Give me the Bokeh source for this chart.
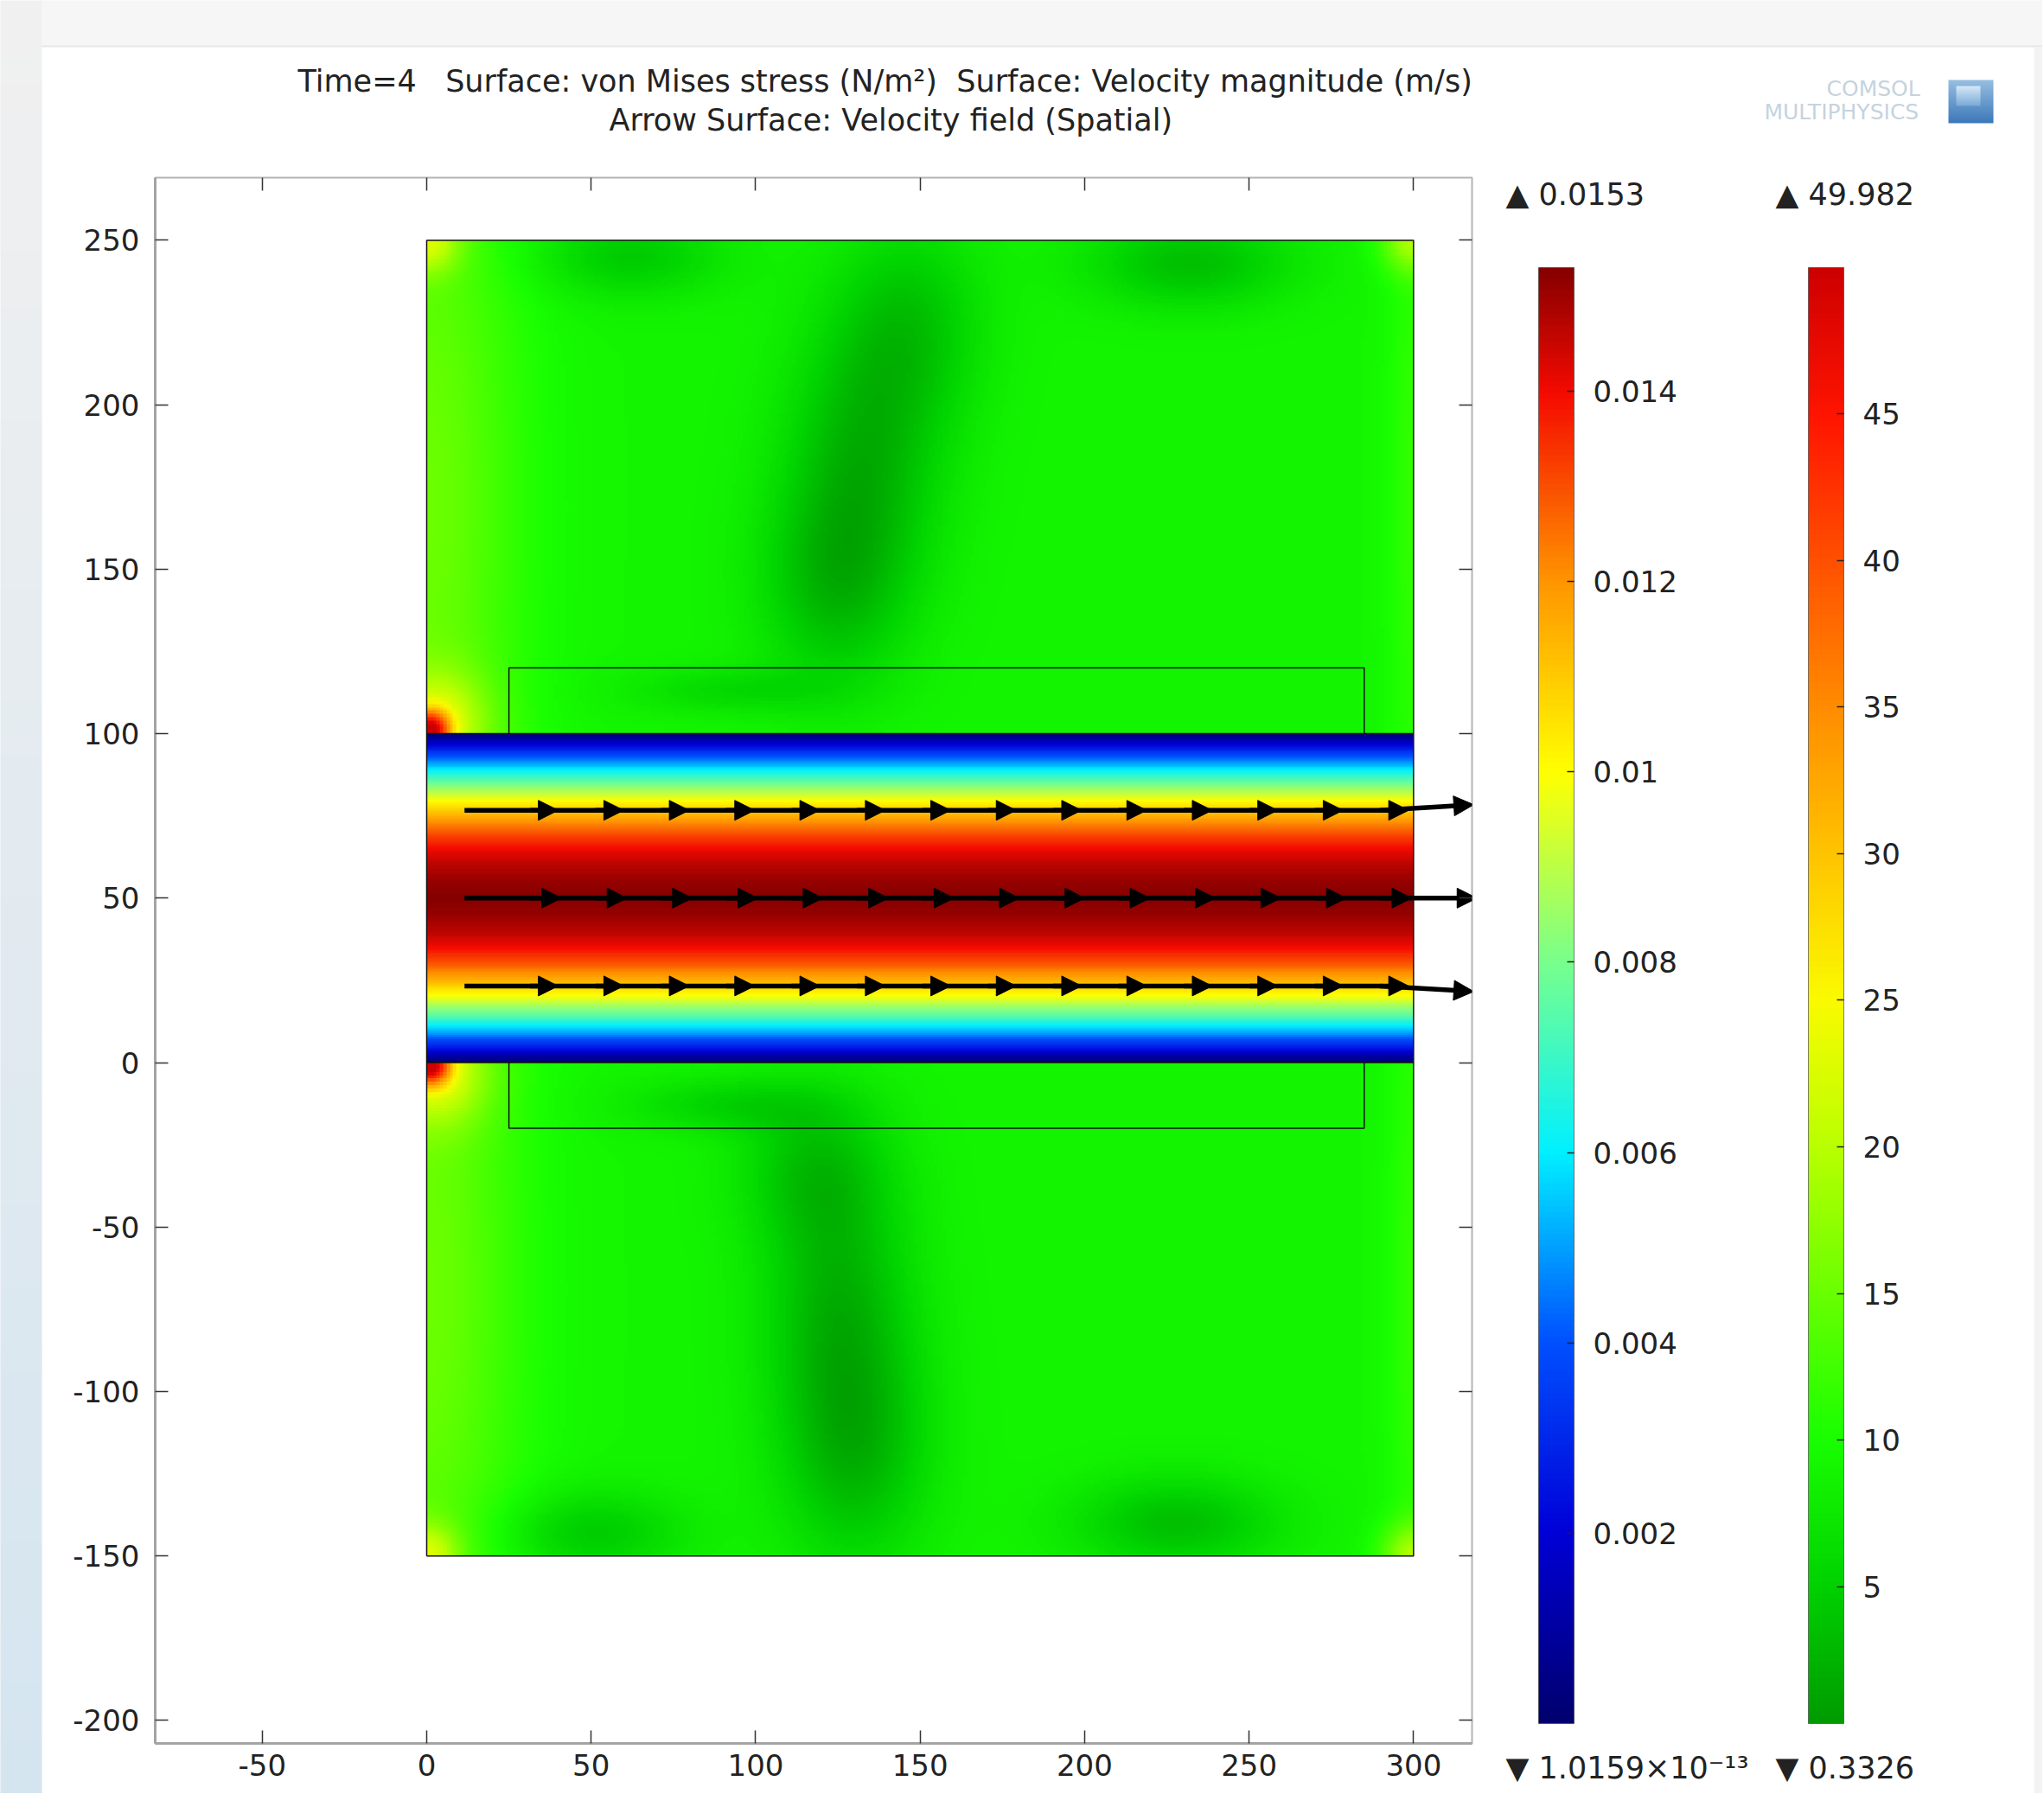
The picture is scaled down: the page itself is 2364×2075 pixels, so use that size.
import numpy as np
from bokeh.plotting import figure
from bokeh.models import (Range1d, LinearAxis, FixedTicker, LinearColorMapper, ColorBar,
                          PrintfTickFormatter)
from bokeh.embed import file_html
from bokeh.resources import INLINE

# ---------------- values ----------------
title_line1 = "Time=4\u00a0\u00a0\u00a0Surface: von Mises stress (N/m\u00b2)\u00a0\u00a0Surface: Velocity magnitude (m/s)"
title_line2 = "Arrow Surface: Velocity field (Spatial)"

x_ticks = [-50, 0, 50, 100, 150, 200, 250, 300]
y_ticks = [-200, -150, -100, -50, 0, 50, 100, 150, 200, 250]

# geometry (domain boundaries)
solid_x = [0, 300]
solid_y = [-150, 250]
channel_y = [0, 100]
inner_x = [25, 285]
inner_y = [-20, 120]

# colour ranges
vel_min, vel_max = 1.0159e-13, 0.0153
vel_ticks = [0.002, 0.004, 0.006, 0.008, 0.01, 0.012, 0.014]
stress_min, stress_max = 0.3326, 49.982
stress_ticks = [5, 10, 15, 20, 25, 30, 35, 40, 45]
vel_max_label = "\u25b2 0.0153"
vel_min_label = "\u25bc 1.0159\u00d710\u207b\u00b9\u00b3"
stress_max_label = "\u25b2 49.982"
stress_min_label = "\u25bc 0.3326"

vel_profile_y = [0, 5, 10, 15, 20, 25, 30, 35, 40, 45, 50, 55, 60, 65, 70, 75, 80, 85, 90, 95, 100]
vel_profile = [0.0000, 0.0029, 0.0055, 0.0078, 0.0098, 0.0115, 0.0129, 0.0140, 0.0147, 0.0151, 0.0153,
               0.0151, 0.0147, 0.0140, 0.0129, 0.0115, 0.0098, 0.0078, 0.0055, 0.0029, 0.0000]

# von Mises stress in the solid: background level plus local features
stress_base = 9.0
feat_x   = [62, 232, 147, 133, 124, 92, 0, 0, 300, 300, 1, 3,
            50, 228, 130, 125, 118, 92, 0, 0, 300, 300, 1, 3]
feat_y   = [245, 243, 225, 185, 145, 113, 175, 250, 250, 175, 101, 103,
            -143, -140, -118, -72, -32, -13, -75, -150, -150, -75, -1, -3]
feat_sx  = [20, 22, 16, 17, 16, 22, 20, 7, 7, 6, 4, 11,
            20, 22, 16, 16, 16, 22, 20, 7, 7, 6, 4, 11]
feat_sy  = [9, 10, 22, 28, 22, 5, 90, 7, 7, 80, 4, 11,
            9, 10, 25, 28, 16, 6, 90, 7, 7, 80, 4, 11]
feat_amp = [-4.5, -5.5, -4.5, -6.0, -5.5, -3.0, 6.0, 10, 9, 2.5, 30, 10,
            -4.5, -5.5, -6.0, -6.0, -4.5, -3.5, 6.0, 10, 9, 2.5, 30, 10]

# velocity arrows (Arrow Surface): start points and lengths
arrow_x0 = [11.5, 31.4, 51.3, 71.2, 91.0, 110.9, 130.8, 150.7, 170.6, 190.4, 210.3, 230.2, 250.1, 270.0, 289.8]
arrow_row_y = [76.7, 50.0, 23.3]
arrow_len = [28.5, 29.5, 28.5]
arrow_last_dy = [1.7, 0.0, -1.7]

# ---------------- layout helpers ----------------
FL, FT, FW, FH = 179, 205, 1523, 1811
FB = FT + FH
SC = 3.8045
X_START = (FL - 493.0) / SC
X_END = X_START + FW / SC
Y_END = 250 + (277.4 - FT) / SC
Y_START = Y_END - FH / SC
FONT = "DejaVu Sans"


def build_palette(stops, n=256):
    v = np.array([s[0] for s in stops], float)
    c = np.array([s[1] for s in stops], float)
    t = np.linspace(0, 1, n)
    r = np.interp(t, v, c[:, 0]); g = np.interp(t, v, c[:, 1]); b = np.interp(t, v, c[:, 2])
    return ["#%02x%02x%02x" % (int(round(a)), int(round(bb)), int(round(cc))) for a, bb, cc in zip(r, g, b)]


rainbow = build_palette([
    (0.0, (0, 0, 110)), (0.1307, (0, 0, 215)), (0.2614, (0, 80, 255)), (0.392, (0, 240, 255)),
    (0.523, (120, 255, 140)), (0.654, (255, 255, 0)), (0.784, (255, 150, 0)), (0.915, (245, 10, 0)),
    (1.0, (135, 0, 0))])
traffic = build_palette([
    (0.0, (0, 155, 0)), (0.094, (0, 210, 0)), (0.195, (25, 255, 0)), (0.295, (105, 255, 0)),
    (0.396, (185, 255, 0)), (0.497, (250, 250, 0)), (0.598, (255, 195, 0)), (0.698, (255, 140, 0)),
    (0.799, (255, 80, 0)), (0.900, (255, 20, 0)), (1.0, (205, 0, 0))])

vel_mapper = LinearColorMapper(palette=rainbow, low=vel_min, high=vel_max)
stress_mapper = LinearColorMapper(palette=traffic, low=stress_min, high=stress_max)

p = figure(frame_width=FW, frame_height=FH, min_border_left=FL, min_border_top=FT,
           min_border_right=660, min_border_bottom=58,
           x_range=Range1d(X_START, X_END), y_range=Range1d(Y_START, Y_END),
           output_backend="svg", toolbar_location=None, title=None,
           background_fill_color="white", border_fill_color="white")
p.grid.visible = False
p.outline_line_color = "#b4b4b4"
p.outline_line_width = 2


# ---------------- page decoration (unclipped colour-bar strips) ----------------
def strip(palette, left, top, right, bottom):
    cb = ColorBar(color_mapper=LinearColorMapper(palette=palette, low=0, high=1),
                  ticker=FixedTicker(ticks=[]), location=(left - FL, FB - bottom),
                  width=right - left, height=bottom - top, padding=0, label_standoff=0,
                  major_tick_line_color=None, minor_tick_line_color=None, bar_line_color=None,
                  major_label_text_font_size="1px", background_fill_alpha=0,
                  border_line_color=None)
    p.add_layout(cb, "center")


def grad(c_bottom, c_top, n=64):
    return build_palette([(0.0, c_bottom), (1.0, c_top)], n)


strip(["#f6f6f6"], 48, 0, 2364, 52)
strip(["#e6e6e6"], 48, 52, 2364, 54)
strip(["#f3f3f3"], 2352, 54, 2364, 2075)
strip(grad((213, 229, 240), (240, 240, 240)), 0, 0, 48, 2075)
# logo cube (two tones)
strip(grad((60, 120, 185), (150, 190, 225)), 2253, 92, 2305, 142)
strip(grad((120, 170, 215), (215, 232, 245)), 2262, 99, 2290, 122)

# ---------------- axes ----------------
for ax, ticks in ((p.xaxis[0], x_ticks), (p.yaxis[0], y_ticks)):
    ax.ticker = FixedTicker(ticks=ticks)
    ax.formatter = PrintfTickFormatter(format="%d")
    ax.major_tick_in = 15
    ax.major_tick_out = 0
    ax.minor_tick_line_color = None
    ax.major_tick_line_color = "#333333"
    ax.major_tick_line_width = 1.5
    ax.axis_line_color = "#a4a4a4"
    ax.axis_line_width = 3
    ax.major_label_text_font = FONT
    ax.major_label_text_font_size = "34px"
    ax.major_label_text_color = "#222222"
p.xaxis[0].major_label_standoff = 12
p.yaxis[0].major_label_standoff = 18

for side, ticks in (("above", x_ticks), ("right", y_ticks)):
    ax = LinearAxis(ticker=FixedTicker(ticks=ticks), major_tick_in=15, major_tick_out=0,
                    minor_tick_line_color=None, major_tick_line_color="#333333",
                    major_tick_line_width=1.5, axis_line_color=None,
                    major_label_text_font_size="1px", major_label_text_alpha=0,
                    major_label_standoff=0)
    p.add_layout(ax, side)

# ---------------- fields ----------------
xc = np.arange(solid_x[0] + 0.5, solid_x[1], 1.0)


def stress_field(yc):
    X, Y = np.meshgrid(xc, yc)
    F = np.full_like(X, stress_base)
    for cx, cy, sx, sy, a in zip(feat_x, feat_y, feat_sx, feat_sy, feat_amp):
        F += a * np.exp(-0.5 * (((X - cx) / sx) ** 2 + ((Y - cy) / sy) ** 2))
    return np.clip(F, stress_min, stress_max).astype(np.float32)


top_y = np.arange(channel_y[1] + 0.5, solid_y[1], 1.0)
bot_y = np.arange(solid_y[0] + 0.5, channel_y[0], 1.0)
p.image(image=[stress_field(top_y)], x=solid_x[0], y=channel_y[1], dw=solid_x[1] - solid_x[0],
        dh=solid_y[1] - channel_y[1], color_mapper=stress_mapper)
p.image(image=[stress_field(bot_y)], x=solid_x[0], y=solid_y[0], dw=solid_x[1] - solid_x[0],
        dh=channel_y[0] - solid_y[0], color_mapper=stress_mapper)

ch_rows = np.arange(channel_y[0] + 0.25, channel_y[1], 0.5)
vel_img = np.interp(ch_rows, vel_profile_y, vel_profile).reshape(-1, 1).astype(np.float32)
p.image(image=[vel_img], x=solid_x[0], y=channel_y[0], dw=solid_x[1] - solid_x[0],
        dh=channel_y[1] - channel_y[0], color_mapper=vel_mapper)

# geometry edges
x0, x1 = solid_x
y0, y1 = solid_y
ix0, ix1 = inner_x
iy0, iy1 = inner_y
edges_xs = [[x0, x1, x1, x0, x0], [x0, x1], [x0, x1], [ix0, ix0, ix1, ix1], [ix0, ix0, ix1, ix1]]
edges_ys = [[y0, y0, y1, y1, y0], [channel_y[0]] * 2, [channel_y[1]] * 2,
            [channel_y[1], iy1, iy1, channel_y[1]], [channel_y[0], iy0, iy0, channel_y[0]]]
p.multi_line(xs=edges_xs, ys=edges_ys, line_color="#111111", line_width=1.5)

# arrows
head_len = 23 / SC
head_hw = 11.5 / SC
sx0, sy0, sx1, sy1 = [], [], [], []
hxs, hys = [], []
for r, yy in enumerate(arrow_row_y):
    for i, xa in enumerate(arrow_x0):
        ddy = arrow_last_dy[r] if i == len(arrow_x0) - 1 else 0.0
        L = arrow_len[r]
        tx, ty = xa + L, yy + ddy
        ang = np.arctan2(ddy, L)
        ux, uy = np.cos(ang), np.sin(ang)
        bx, by = tx - head_len * ux, ty - head_len * uy
        sx0.append(xa); sy0.append(yy); sx1.append(bx + 0.5 * ux); sy1.append(by + 0.5 * uy)
        hxs.append([tx, bx - head_hw * uy, bx + head_hw * uy])
        hys.append([ty, by + head_hw * ux, by - head_hw * ux])
p.segment(x0=sx0, y0=sy0, x1=sx1, y1=sy1, line_color="black", line_width=5.5)
p.patches(xs=hxs, ys=hys, fill_color="black", line_color="black", line_width=1)

# ---------------- colour bars ----------------
BAR_H = 1684
for mapper, ticks, xoff in ((vel_mapper, vel_ticks, 1600), (stress_mapper, stress_ticks, 1912)):
    cb = ColorBar(color_mapper=mapper, ticker=FixedTicker(ticks=ticks),
                  formatter=PrintfTickFormatter(format="%g"),
                  location=(xoff, 23), width=41, height=BAR_H, padding=0,
                  major_tick_in=8, major_tick_out=0, major_tick_line_color="#222222",
                  major_tick_line_width=1.5, minor_tick_line_color=None,
                  label_standoff=22, major_label_text_font=FONT,
                  major_label_text_font_size="34px", major_label_text_color="#222222",
                  bar_line_color="#333333", bar_line_alpha=0.6, bar_line_width=1,
                  background_fill_alpha=0, border_line_color=None)
    p.add_layout(cb, "center")


# ---------------- texts (titles of invisible horizontal colour bars, not clipped) ----------------
def text(txt, left, cy, size, color="#222222"):
    h = 1.2 * size
    box_bottom = cy + h / 2 + 1
    cb = ColorBar(color_mapper=LinearColorMapper(palette=["#ffffff"], low=0, high=1),
                  orientation="horizontal",
                  ticker=FixedTicker(ticks=[]), location=(left - FL, FB - box_bottom),
                  width=1, height=1, padding=0, label_standoff=0, scale_alpha=0,
                  major_tick_line_color=None, minor_tick_line_color=None, bar_line_color=None,
                  major_label_text_font_size="1px", background_fill_alpha=0,
                  border_line_color=None, title=txt, title_standoff=0,
                  title_text_font=FONT, title_text_font_size=f"{size}px",
                  title_text_color=color, title_text_font_style="normal")
    p.add_layout(cb, "center")


text(title_line1, 344, 92, 35)
text(title_line2, 704, 137, 35)
text(vel_max_label, 1741, 223, 35)
text(stress_max_label, 2053, 223, 35)
text(vel_min_label, 1741, 2043, 35)
text(stress_min_label, 2053, 2043, 35)
text("COMSOL", 2112, 101, 25, color="#c5d3de")
text("MULTIPHYSICS", 2040, 128, 25, color="#c5d3de")

open("out.html", "w").write(file_html(p, INLINE))
